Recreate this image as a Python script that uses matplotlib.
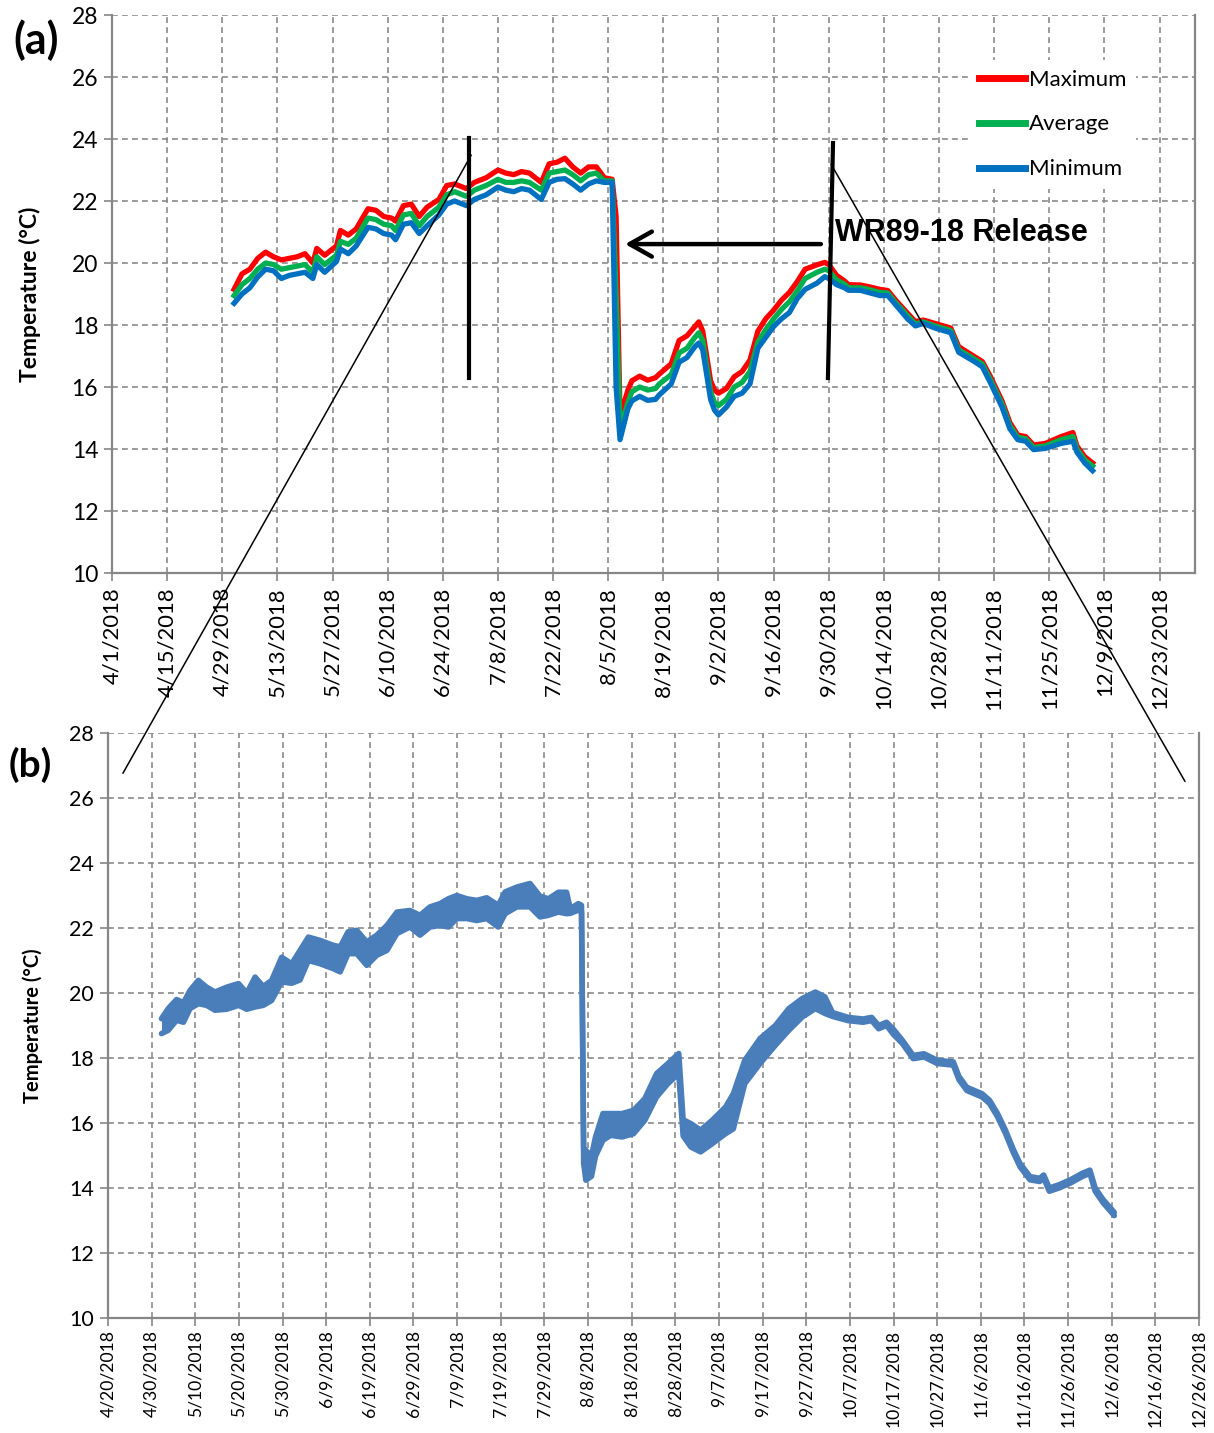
import numpy as np
import pandas as pd
import matplotlib
matplotlib.use("Agg")
import matplotlib.pyplot as plt
import matplotlib.dates as mdates
from matplotlib.patches import ConnectionPatch

plt.rcParams['font.family'] = ['Lato', 'DejaVu Sans']

# ---- panel (a): daily max / average / min ----
a_dates = [
    "2018-05-02", "2018-05-04", "2018-05-06", "2018-05-08", "2018-05-10", "2018-05-12",
    "2018-05-14", "2018-05-16", "2018-05-18", "2018-05-20", "2018-05-22", "2018-05-23",
    "2018-05-25", "2018-05-28", "2018-05-29", "2018-05-31", "2018-06-02", "2018-06-05",
    "2018-06-07", "2018-06-09", "2018-06-11", "2018-06-12", "2018-06-14", "2018-06-16",
    "2018-06-18", "2018-06-20", "2018-06-23", "2018-06-25", "2018-06-27", "2018-06-30",
    "2018-07-02", "2018-07-05", "2018-07-08", "2018-07-10", "2018-07-12", "2018-07-14",
    "2018-07-16", "2018-07-19", "2018-07-21", "2018-07-23", "2018-07-25", "2018-07-27",
    "2018-07-29", "2018-07-31", "2018-08-02", "2018-08-04", "2018-08-06", "2018-08-07",
    "2018-08-08", "2018-08-10", "2018-08-11", "2018-08-13", "2018-08-15", "2018-08-17",
    "2018-08-18", "2018-08-21", "2018-08-23", "2018-08-25", "2018-08-27", "2018-08-28",
    "2018-08-29", "2018-08-31", "2018-09-01", "2018-09-02", "2018-09-04", "2018-09-06",
    "2018-09-08", "2018-09-10", "2018-09-12", "2018-09-14", "2018-09-16", "2018-09-18",
    "2018-09-20", "2018-09-22", "2018-09-24", "2018-09-27", "2018-09-29", "2018-09-30",
    "2018-10-02", "2018-10-04", "2018-10-05", "2018-10-08", "2018-10-10", "2018-10-13",
    "2018-10-15", "2018-10-17", "2018-10-20", "2018-10-22", "2018-10-24", "2018-10-27",
    "2018-10-31", "2018-11-02", "2018-11-06", "2018-11-08", "2018-11-10", "2018-11-13",
    "2018-11-15", "2018-11-17", "2018-11-19", "2018-11-21", "2018-11-24", "2018-11-28",
    "2018-12-01", "2018-12-02", "2018-12-04", "2018-12-06",
]
a_max = [
    19.15, 19.65, 19.80, 20.15, 20.35, 20.20, 20.10, 20.15, 20.20, 20.30, 20.00, 20.47,
    20.25, 20.55, 21.05, 20.90, 21.10, 21.75, 21.70, 21.50, 21.45, 21.35, 21.85, 21.90,
    21.50, 21.80, 22.05, 22.50, 22.55, 22.40, 22.60, 22.75, 23.00, 22.90, 22.85, 22.95,
    22.90, 22.60, 23.20, 23.25, 23.38, 23.10, 22.90, 23.10, 23.10, 22.75, 22.70, 21.50,
    15.05, 15.90, 16.20, 16.35, 16.22, 16.30, 16.42, 16.75, 17.50, 17.65, 17.95, 18.10,
    17.80, 16.20, 15.90, 15.80, 15.95, 16.33, 16.50, 16.87, 17.80, 18.20, 18.48, 18.80,
    19.05, 19.40, 19.80, 19.94, 20.02, 19.95, 19.60, 19.42, 19.30, 19.29, 19.24, 19.15,
    19.11, 18.80, 18.38, 18.11, 18.16, 18.05, 17.90, 17.30, 16.98, 16.82, 16.35, 15.55,
    14.85, 14.45, 14.40, 14.13, 14.18, 14.40, 14.53, 14.10, 13.75, 13.55,
]
a_avg = [
    18.95, 19.30, 19.50, 19.80, 20.00, 19.95, 19.80, 19.85, 19.90, 19.95, 19.70, 20.20,
    19.95, 20.25, 20.70, 20.60, 20.80, 21.45, 21.40, 21.25, 21.20, 21.05, 21.55, 21.60,
    21.20, 21.50, 21.80, 22.20, 22.30, 22.15, 22.35, 22.50, 22.70, 22.60, 22.60, 22.65,
    22.60, 22.35, 22.90, 22.95, 23.00, 22.85, 22.65, 22.85, 22.90, 22.65, 22.65, 19.00,
    14.65, 15.50, 15.85, 16.00, 15.90, 15.95, 16.10, 16.40, 17.10, 17.25, 17.60, 17.75,
    17.50, 15.85, 15.50, 15.40, 15.60, 16.00, 16.15, 16.50, 17.45, 17.85, 18.20, 18.50,
    18.75, 19.10, 19.50, 19.70, 19.80, 19.75, 19.45, 19.32, 19.20, 19.20, 19.15, 19.05,
    19.03, 18.72, 18.30, 18.03, 18.10, 17.97, 17.82, 17.20, 16.90, 16.74, 16.25, 15.45,
    14.75, 14.38, 14.33, 14.05, 14.10, 14.30, 14.40, 14.00, 13.65, 13.45,
]
a_min = [
    18.70, 19.00, 19.20, 19.55, 19.80, 19.75, 19.50, 19.60, 19.65, 19.70, 19.50, 19.95,
    19.70, 20.05, 20.45, 20.30, 20.55, 21.15, 21.10, 20.95, 20.90, 20.75, 21.25, 21.30,
    20.95, 21.20, 21.55, 21.90, 22.00, 21.85, 22.05, 22.20, 22.45, 22.35, 22.30, 22.40,
    22.35, 22.05, 22.60, 22.70, 22.72, 22.55, 22.35, 22.55, 22.65, 22.60, 22.60, 16.00,
    14.30, 15.30, 15.55, 15.70, 15.57, 15.60, 15.75, 16.10, 16.80, 16.95, 17.30, 17.42,
    17.20, 15.60, 15.25, 15.10, 15.35, 15.70, 15.80, 16.10, 17.25, 17.60, 17.95, 18.20,
    18.40, 18.85, 19.15, 19.35, 19.56, 19.50, 19.30, 19.20, 19.12, 19.12, 19.05, 18.95,
    18.95, 18.65, 18.20, 17.97, 18.05, 17.90, 17.75, 17.12, 16.82, 16.65, 16.15, 15.35,
    14.65, 14.30, 14.25, 13.98, 14.02, 14.18, 14.25, 13.90, 13.55, 13.30,
]
a_tick_labels = [
    "4/1/2018", "4/15/2018", "4/29/2018", "5/13/2018", "5/27/2018", "6/10/2018",
    "6/24/2018", "7/8/2018", "7/22/2018", "8/5/2018", "8/19/2018", "9/2/2018",
    "9/16/2018", "9/30/2018", "10/14/2018", "10/28/2018", "11/11/2018", "11/25/2018",
    "12/9/2018", "12/23/2018",
]

# ---- panel (b): sub-daily record, shown as its daily low/high envelope ----
b_dates = [
    "2018-05-02 06:00", "2018-05-03 19:00", "2018-05-05 17:00", "2018-05-07 07:00",
    "2018-05-08 19:00", "2018-05-10 17:00", "2018-05-12 14:00", "2018-05-14 12:00",
    "2018-05-17 05:00", "2018-05-19 22:00", "2018-05-21 19:00", "2018-05-23 17:00",
    "2018-05-25 14:00", "2018-05-27 12:00", "2018-05-29 19:00", "2018-06-01 02:00",
    "2018-06-03 00:00", "2018-06-04 22:00", "2018-06-07 14:00", "2018-06-10 14:00",
    "2018-06-12 05:00", "2018-06-14 00:00", "2018-06-16 00:00", "2018-06-18 07:00",
    "2018-06-20 14:00", "2018-06-22 22:00", "2018-06-25 05:00", "2018-06-28 05:00",
    "2018-06-30 12:00", "2018-07-02 19:00", "2018-07-05 02:00", "2018-07-07 00:00",
    "2018-07-08 22:00", "2018-07-11 05:00", "2018-07-13 12:00", "2018-07-15 19:00",
    "2018-07-18 10:00", "2018-07-20 00:00", "2018-07-22 17:00", "2018-07-25 17:00",
    "2018-07-28 00:00", "2018-07-29 22:00", "2018-08-01 05:00", "2018-08-03 02:00",
    "2018-08-03 22:00", "2018-08-05 19:00", "2018-08-06 12:00", "2018-08-07 00:00",
    "2018-08-07 12:00", "2018-08-08 19:00", "2018-08-09 17:00", "2018-08-11 10:00",
    "2018-08-13 05:00", "2018-08-15 19:00", "2018-08-18 10:00", "2018-08-21 00:00",
    "2018-08-23 17:00", "2018-08-26 07:00", "2018-08-28 19:00", "2018-08-29 19:00",
    "2018-08-31 14:00", "2018-09-02 19:00", "2018-09-05 10:00", "2018-09-08 12:00",
    "2018-09-10 07:00", "2018-09-12 22:00", "2018-09-16 10:00", "2018-09-19 22:00",
    "2018-09-23 00:00", "2018-09-26 02:00", "2018-09-29 02:00", "2018-10-01 07:00",
    "2018-10-03 00:00", "2018-10-06 14:00", "2018-10-10 00:00", "2018-10-12 00:00",
    "2018-10-13 14:00", "2018-10-15 10:00", "2018-10-17 00:00", "2018-10-19 00:00",
    "2018-10-21 12:00", "2018-10-24 00:00", "2018-10-27 00:00", "2018-10-30 17:00",
    "2018-11-01 00:00", "2018-11-02 19:00", "2018-11-06 07:00", "2018-11-08 00:00",
    "2018-11-09 19:00", "2018-11-11 14:00", "2018-11-13 10:00", "2018-11-15 00:00",
    "2018-11-17 07:00", "2018-11-19 12:00", "2018-11-20 10:00", "2018-11-21 17:00",
    "2018-11-23 22:00", "2018-11-26 12:00", "2018-11-29 05:00", "2018-12-01 00:00",
    "2018-12-02 05:00", "2018-12-04 00:00", "2018-12-06 14:00",
]
b_low = [
    18.75, 18.85, 19.16, 19.10, 19.52, 19.67, 19.62, 19.47, 19.50, 19.62, 19.50, 19.57,
    19.62, 19.77, 20.34, 20.30, 20.40, 21.00, 20.90, 20.75, 20.65, 21.21, 21.21, 20.85,
    21.16, 21.31, 21.83, 22.03, 21.78, 22.03, 22.08, 22.03, 22.29, 22.29, 22.23, 22.29,
    22.03, 22.44, 22.65, 22.65, 22.34, 22.39, 22.49, 22.44, 22.45, 22.55, 22.50, 14.75,
    14.24, 14.36, 14.98, 15.47, 15.62, 15.57, 15.67, 16.08, 16.80, 17.21, 17.52, 15.60,
    15.26, 15.11, 15.36, 15.67, 15.82, 17.21, 17.83, 18.39, 18.85, 19.26, 19.52, 19.37,
    19.28, 19.15, 19.10, 19.15, 18.90, 19.00, 18.72, 18.45, 17.98, 18.03, 17.83, 17.78,
    17.33, 17.00, 16.80, 16.60, 16.20, 15.70, 15.10, 14.65, 14.25, 14.20, 14.30, 13.90,
    14.00, 14.15, 14.35, 14.45, 13.90, 13.55, 13.15,
]
b_high = [
    19.21, 19.52, 19.80, 19.70, 20.08, 20.39, 20.18, 20.03, 20.18, 20.29, 20.00, 20.49,
    20.20, 20.39, 21.10, 20.90, 21.31, 21.72, 21.62, 21.47, 21.42, 21.88, 21.93, 21.57,
    21.78, 22.08, 22.49, 22.54, 22.39, 22.65, 22.75, 22.90, 23.00, 22.90, 22.85, 22.93,
    22.70, 23.11, 23.26, 23.37, 22.98, 22.90, 23.10, 23.10, 22.60, 22.75, 22.70, 15.20,
    15.16, 14.98, 15.57, 16.29, 16.29, 16.29, 16.39, 16.75, 17.52, 17.83, 18.14, 16.10,
    15.98, 15.78, 16.08, 16.49, 16.90, 17.93, 18.60, 19.00, 19.52, 19.83, 20.03, 19.88,
    19.40, 19.25, 19.20, 19.25, 19.00, 19.10, 18.88, 18.55, 18.08, 18.13, 17.93, 17.88,
    17.43, 17.10, 16.90, 16.70, 16.30, 15.80, 15.20, 14.75, 14.35, 14.30, 14.40, 14.00,
    14.10, 14.25, 14.45, 14.55, 14.00, 13.65, 13.25,
]
b_tick_labels = [
    "4/20/2018", "4/30/2018", "5/10/2018", "5/20/2018", "5/30/2018", "6/9/2018",
    "6/19/2018", "6/29/2018", "7/9/2018", "7/19/2018", "7/29/2018", "8/8/2018",
    "8/18/2018", "8/28/2018", "9/7/2018", "9/17/2018", "9/27/2018", "10/7/2018",
    "10/17/2018", "10/27/2018", "11/6/2018", "11/16/2018", "11/26/2018", "12/6/2018",
    "12/16/2018", "12/26/2018",
]

a_dates = pd.to_datetime(a_dates)
b_dates = pd.to_datetime(b_dates)
a_ticks = pd.to_datetime(a_tick_labels, format="%m/%d/%Y")
b_ticks = pd.to_datetime(b_tick_labels, format="%m/%d/%Y")

GRID = "#8a8a8a"
AXIS = "#868686"

fig = plt.figure(figsize=(12.14, 14.33), dpi=100)
ax1 = fig.add_axes([112 / 1214, 1 - 573 / 1433, 1083 / 1214, 558 / 1433])
ax2 = fig.add_axes([108 / 1214, 1 - 1318 / 1433, 1091 / 1214, 585 / 1433])


def style(ax, ticks, labels, xsize, ysize, labsize, xpad=4):
    ax.set_ylim(10, 28)
    ax.set_yticks(np.arange(10, 29, 2))
    ax.set_xticks(ticks)
    ax.set_xticklabels(labels, rotation=90, fontsize=xsize)
    ax.tick_params(axis="y", labelsize=ysize)
    ax.tick_params(direction="out", length=6, width=1.2, color=AXIS, pad=4)
    ax.tick_params(axis="x", pad=xpad)
    ax.grid(True, color=GRID, linestyle=(0, (3.5, 2.5)), linewidth=1.2)
    ax.set_axisbelow(True)
    ax.spines["top"].set_visible(False)
    for s in ("left", "bottom", "right"):
        ax.spines[s].set_color(AXIS)
        ax.spines[s].set_linewidth(1.6)
    ax.set_ylabel("Temperature (°C)", fontsize=labsize, fontweight="bold")


# ---- panel (a) ----
ax1.plot(a_dates, a_max, color="#ff0000", lw=3.8, label="Maximum", zorder=3)
ax1.plot(a_dates, a_avg, color="#00b050", lw=3.8, label="Average", zorder=4)
ax1.plot(a_dates, a_min, color="#0070c0", lw=3.8, label="Minimum", zorder=5)
ax1.set_xlim(pd.Timestamp("2018-04-01"), pd.Timestamp("2019-01-01"))
style(ax1, a_ticks, a_tick_labels, 15.8, 16.5, 16.5)
ax1.yaxis.set_label_coords(-0.066, 0.5)

leg = ax1.legend(loc="upper right", bbox_to_anchor=(0.956, 0.94), frameon=True,
                 facecolor="white", edgecolor="none", framealpha=1, fancybox=False,
                 handlelength=2.1, handletextpad=0.15, labelspacing=1.12,
                 borderpad=0.45, fontsize=16)
for h in leg.get_lines():
    h.set_linewidth(5)

# release markers (thick verticals), arrow and label
ax1.plot([pd.Timestamp("2018-06-30 17:00")] * 2, [24.03, 16.29], color="black", lw=3, zorder=6)
ax1.plot([pd.Timestamp("2018-10-01 02:00"), pd.Timestamp("2018-09-29 19:00")],
         [23.87, 16.29], color="black", lw=3, zorder=6)
ax1.annotate("", xy=(pd.Timestamp("2018-08-09 07:00"), 20.61),
             xytext=(pd.Timestamp("2018-09-28 00:00"), 20.61),
             arrowprops=dict(arrowstyle="->, head_length=0.8, head_width=0.45",
                             lw=3.2, color="black", mutation_scale=20,
                             shrinkA=0, shrinkB=0), zorder=6)
ax1.text(pd.Timestamp("2018-10-01 14:00"), 20.97, "WR89-18 Release",
         fontsize=22, fontweight="bold", family="Liberation Sans",
         ha="left", va="center", zorder=7)

# ---- panel (b) ----
ax2.fill_between(b_dates, b_low, b_high, color="#4a7ebb", lw=0, zorder=3)
ax2.plot(b_dates, b_low, color="#4a7ebb", lw=4, solid_joinstyle="round",
         solid_capstyle="round", zorder=3)
ax2.plot(b_dates, b_high, color="#4a7ebb", lw=4, solid_joinstyle="round",
         solid_capstyle="round", zorder=3)
ax2.set_xlim(pd.Timestamp("2018-04-20"), pd.Timestamp("2018-12-26"))
style(ax2, b_ticks, b_tick_labels, 12.6, 15.5, 14.5, xpad=2.5)
ax2.yaxis.set_label_coords(-0.06, 0.5)

# thin zoom guide lines from panel (a) into panel (b)
guides = [
    ((pd.Timestamp("2018-07-01 05:00"), 23.48), (pd.Timestamp("2018-04-23 10:00"), 26.76)),
    ((pd.Timestamp("2018-09-30 14:00"), 23.19), (pd.Timestamp("2018-12-22 19:00"), 26.51)),
]
for (xa, ya), (xb, yb) in guides:
    con = ConnectionPatch(xyA=(mdates.date2num(xa), ya), coordsA=ax1.transData,
                          xyB=(mdates.date2num(xb), yb), coordsB=ax2.transData,
                          color="black", lw=1.1, zorder=10)
    fig.add_artist(con)

fig.text(36 / 1214, 1 - 40 / 1433, "(a)", fontsize=31, fontweight="bold",
         ha="center", va="center")
fig.text(30 / 1214, 1 - 765 / 1433, "(b)", fontsize=28, fontweight="bold",
         ha="center", va="center")

fig.savefig("out.png", dpi=100)
